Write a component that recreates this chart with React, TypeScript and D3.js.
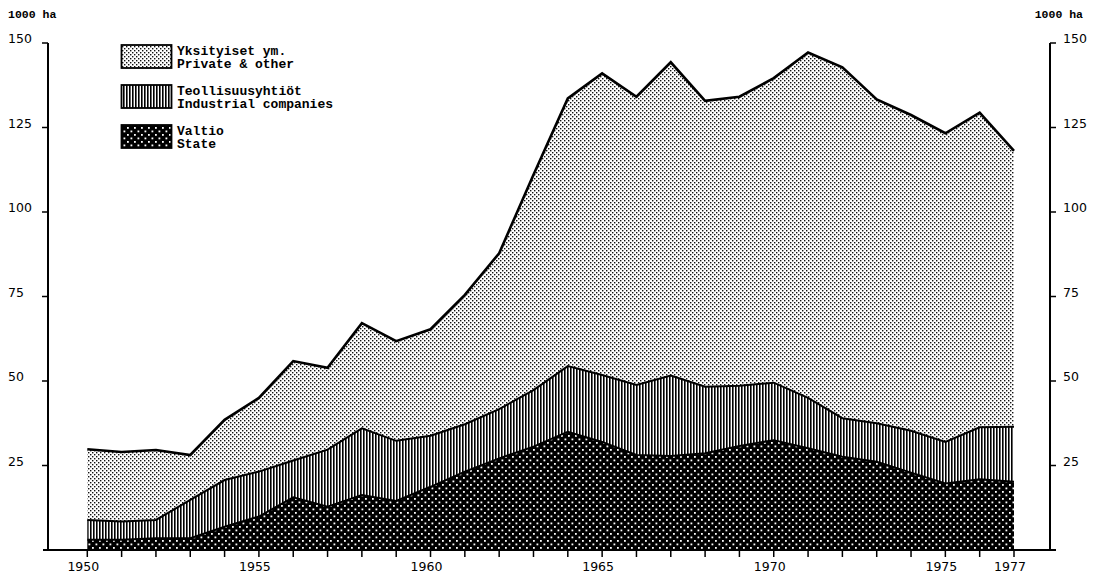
import { useEffect, useRef } from "react";
import * as d3 from "d3";

const years = [
  1950, 1951, 1952, 1953, 1954, 1955, 1956, 1957, 1958, 1959, 1960, 1961, 1962, 1963,
  1964, 1965, 1966, 1967, 1968, 1969, 1970, 1971, 1972, 1973, 1974, 1975, 1976, 1977,
];

// 1000 ha
const state = [
  3.0, 3.0, 3.5, 3.5, 6.9, 9.9, 15.6, 12.8, 16.3, 14.5, 18.7, 23.2, 27.1, 30.6,
  35.0, 32.0, 28.1, 27.8, 28.6, 30.8, 32.5, 30.1, 27.6, 26.1, 22.9, 19.7, 20.9, 20.2,
];
const industrial = [
  5.9, 5.4, 5.4, 11.3, 13.8, 13.3, 10.9, 16.9, 19.7, 17.8, 15.1, 14.0, 14.6, 16.7,
  19.4, 19.8, 20.7, 23.8, 19.7, 17.8, 17.0, 14.9, 11.4, 11.4, 12.4, 12.3, 15.4, 16.3,
];
const privateOther = [
  20.9, 20.6, 20.7, 13.3, 17.8, 21.8, 29.4, 24.2, 31.1, 29.5, 31.5, 38.3, 46.1, 63.7,
  79.2, 89.2, 85.3, 92.7, 84.6, 85.5, 90.1, 102.2, 103.8, 95.8, 93.4, 91.3, 93.1, 81.6,
];

const yTicks = [25, 50, 75, 100, 125, 150];
const xLabels = [1950, 1955, 1960, 1965, 1970, 1975, 1977];

const legendItems = [
  { key: "private", lines: ["Yksityiset ym.", "Private & other"] },
  { key: "industrial", lines: ["Teollisuusyhtiöt", "Industrial companies"] },
  { key: "state", lines: ["Valtio", "State"] },
];

export default function App() {
  const ref = useRef<SVGSVGElement | null>(null);

  useEffect(() => {
    const width = 1100;
    const height = 577;
    const svg = d3.select(ref.current);
    svg.selectAll("*").remove();

    const axisLeftX = 48;
    const axisRightX = 1050;
    const baseY = 550;

    const x = d3.scaleLinear().domain([1950, 1977]).range([87.3, 1014]);
    const y = d3.scaleLinear().domain([0, 150]).range([baseY, 43]);

    // patterns
    const defs = svg.append("defs");
    const pPriv = defs
      .append("pattern")
      .attr("id", "pat-private")
      .attr("patternUnits", "userSpaceOnUse")
      .attr("width", 4)
      .attr("height", 4);
    pPriv.append("rect").attr("width", 4).attr("height", 4).attr("fill", "#fff");
    pPriv.append("rect").attr("x", 0).attr("y", 0).attr("width", 1.4).attr("height", 1.4).attr("fill", "#111");
    pPriv.append("rect").attr("x", 2).attr("y", 2).attr("width", 1.4).attr("height", 1.4).attr("fill", "#111");

    const pInd = defs
      .append("pattern")
      .attr("id", "pat-industrial")
      .attr("patternUnits", "userSpaceOnUse")
      .attr("width", 3)
      .attr("height", 3);
    pInd.append("rect").attr("width", 3).attr("height", 3).attr("fill", "#fff");
    pInd.append("rect").attr("x", 0).attr("width", 1.6).attr("height", 3).attr("fill", "#000");

    const pState = defs
      .append("pattern")
      .attr("id", "pat-state")
      .attr("patternUnits", "userSpaceOnUse")
      .attr("width", 7)
      .attr("height", 7);
    pState.append("rect").attr("width", 7).attr("height", 7).attr("fill", "#000");
    pState.append("rect").attr("x", 1).attr("y", 1).attr("width", 1.8).attr("height", 1.8).attr("fill", "#fff");
    pState.append("rect").attr("x", 4.5).attr("y", 4.5).attr("width", 1.8).attr("height", 1.8).attr("fill", "#fff");

    const fills: Record<string, string> = {
      state: "url(#pat-state)",
      industrial: "url(#pat-industrial)",
      private: "url(#pat-private)",
    };

    const rows = years.map((yr, i) => ({
      year: yr,
      state: state[i],
      industrial: industrial[i],
      private: privateOther[i],
    }));

    const stack = d3.stack<any>().keys(["state", "industrial", "private"]);
    const series = stack(rows);

    const area = d3
      .area<any>()
      .x((d) => x(d.data.year))
      .y0((d) => y(d[0]))
      .y1((d) => y(d[1]));
    const line = d3
      .line<any>()
      .x((d) => x(d.data.year))
      .y((d) => y(d[1]));

    svg
      .selectAll("path.layer")
      .data(series)
      .join("path")
      .attr("class", "layer")
      .attr("fill", (d) => fills[d.key])
      .attr("d", area as any);

    svg
      .selectAll("path.edge")
      .data(series)
      .join("path")
      .attr("class", "edge")
      .attr("fill", "none")
      .attr("stroke", "#000")
      .attr("stroke-width", (d) => (d.key === "private" ? 2.6 : 2))
      .attr("stroke-linejoin", "miter")
      .attr("d", line as any);

    // axes
    const axisG = svg.append("g").attr("stroke", "#000").attr("fill", "none");
    axisG.append("line").attr("x1", 43).attr("x2", 1056).attr("y1", baseY).attr("y2", baseY).attr("stroke-width", 2);
    axisG.append("line").attr("x1", axisLeftX).attr("x2", axisLeftX).attr("y1", y(150)).attr("y2", baseY).attr("stroke-width", 2);
    axisG.append("line").attr("x1", axisRightX).attr("x2", axisRightX).attr("y1", y(150)).attr("y2", baseY).attr("stroke-width", 2);

    yTicks.forEach((t) => {
      axisG.append("line").attr("x1", axisLeftX - 6).attr("x2", axisLeftX).attr("y1", y(t)).attr("y2", y(t)).attr("stroke-width", 1.5);
      axisG.append("line").attr("x1", axisRightX).attr("x2", axisRightX + 6).attr("y1", y(t)).attr("y2", y(t)).attr("stroke-width", 1.5);
    });
    years.forEach((yr) => {
      axisG.append("line").attr("x1", x(yr)).attr("x2", x(yr)).attr("y1", baseY).attr("y2", baseY + 7).attr("stroke-width", 1.5);
    });

    const tickFont = "'DejaVu Sans', sans-serif";
    const text = svg.append("g").attr("fill", "#000").attr("font-family", tickFont).attr("font-size", 12.5);
    yTicks.forEach((t) => {
      text.append("text").attr("x", 8).attr("y", y(t) - 4).attr("dy", "0.35em").text(t);
      text.append("text").attr("x", 1063).attr("y", y(t) - 4).attr("dy", "0.35em").text(t);
    });
    xLabels.forEach((yr) => {
      text.append("text").attr("x", x(yr) - 4).attr("y", 571).attr("text-anchor", "middle").text(yr);
    });

    const unitG = svg
      .append("g")
      .attr("font-family", "'Liberation Mono', monospace")
      .attr("font-weight", "bold")
      .attr("font-size", 11.5);
    unitG.append("text").attr("x", 8).attr("y", 18).text("1000 ha");
    unitG.append("text").attr("x", 1083).attr("y", 18).attr("text-anchor", "end").text("1000 ha");

    // legend
    const leg = svg.append("g").attr("font-family", "'Liberation Mono', monospace").attr("font-weight", "bold").attr("font-size", 13);
    legendItems.forEach((item, i) => {
      const top = 45 + i * 40;
      leg
        .append("rect")
        .attr("x", 121.5)
        .attr("y", top)
        .attr("width", 50)
        .attr("height", 23)
        .attr("fill", fills[item.key])
        .attr("stroke", "#000")
        .attr("stroke-width", 1.8);
      item.lines.forEach((ln, j) => {
        leg.append("text").attr("x", 177).attr("y", top + 10 + j * 13).text(ln);
      });
    });

    svg.attr("width", width).attr("height", height);
  }, []);

  return (
    <svg
      ref={ref}
      width={1100}
      height={577}
      style={{ position: "absolute", left: 0, top: 0, background: "#fff" }}
    />
  );
}
